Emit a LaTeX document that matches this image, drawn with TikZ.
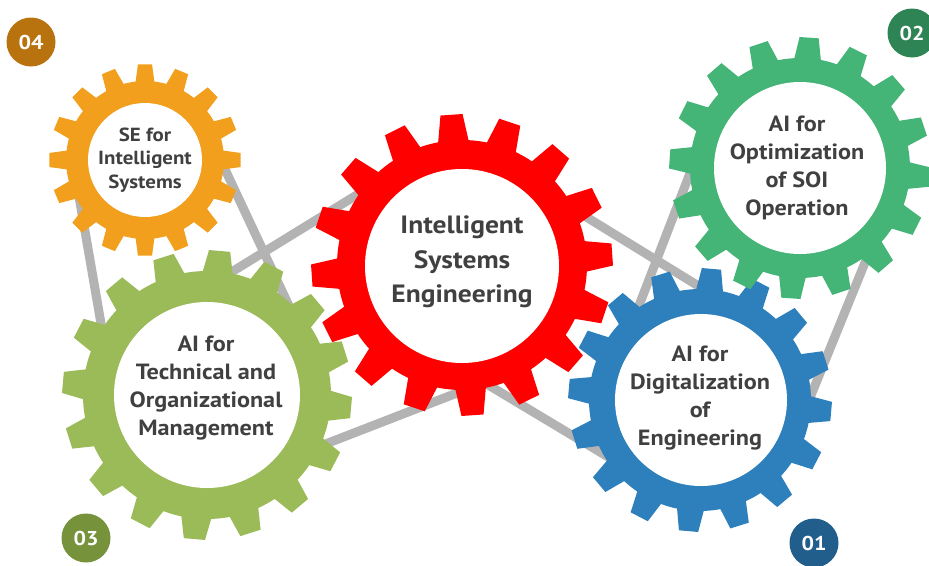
\documentclass[tikz,border=0pt]{standalone}
\usepackage{fontspec}
\setmainfont{PT Sans}[FakeStretch=1.1]
\definecolor{gOrange}{HTML}{F29F1D}
\definecolor{gRed}{HTML}{FF0000}
\definecolor{gGreen}{HTML}{44B477}
\definecolor{gBlue}{HTML}{2E80BC}
\definecolor{gOlive}{HTML}{9BBB59}
\definecolor{linkGray}{HTML}{B3B3B3}
\definecolor{txtGray}{HTML}{404040}
\definecolor{nOrange}{HTML}{B8730F}
\definecolor{nGreen}{HTML}{2F8455}
\definecolor{nOlive}{HTML}{76933C}
\definecolor{nBlue}{HTML}{215E8C}
% #1 cx, #2 cy, #3 root radius, #4 tip radius, #5 colour, #6 angle offset
\newcommand{\gearbody}[6]{%
  \begin{scope}[shift={(#1,#2)}]
    \fill[#5] (0,0) circle[radius=#3];
    \foreach \k in {0,...,15}{
      \pgfmathsetmacro{\ga}{#6+22.5*\k}
      \fill[#5] (\ga-7.4:#3-3) -- (\ga-4.2:#4) -- (\ga+4.2:#4) -- (\ga+7.4:#3-3) -- cycle;
    }
  \end{scope}}
\tikzset{
  link/.style={draw=linkGray, line width=9pt},
  hub/.style={circle, fill=white, inner sep=0pt},
  gtext/.style={align=center, text=txtGray, inner sep=0pt},
  badge/.style={circle, minimum size=49pt, inner sep=0pt, text=white,
     font=\fontsize{20}{22}\selectfont\bfseries},
}
\begin{document}
\begin{tikzpicture}[x=1pt,y=-1pt]
\useasboundingbox (0,0) rectangle (929,565);
% link end points
\coordinate (l1a) at (77,185);  \coordinate (l1b) at (103,335);
\coordinate (l2a) at (215,148); \coordinate (l2b) at (290,308);
\coordinate (l3a) at (160,316); \coordinate (l3b) at (360,193);
\coordinate (l4a) at (310,450); \coordinate (l4b) at (470,388);
\coordinate (l6a) at (570,207); \coordinate (l6b) at (705,290);
\coordinate (l7a) at (485,383); \coordinate (l7b) at (615,461);
\coordinate (l8a) at (697,155); \coordinate (l8b) at (635,316);
\coordinate (l9a) at (875,238); \coordinate (l9b) at (805,410);
\draw[link] (l1a) -- (l1b);
\draw[link] (l2a) -- (l2b);
\draw[link] (l3a) -- (l3b);
\draw[link] (l4a) -- (l4b);
\draw[link] (l6a) -- (l6b);
\draw[link] (l7a) -- (l7b);
\draw[link] (l8a) -- (l8b);
\draw[link] (l9a) -- (l9b);
% gears
\gearbody{207}{395}{124}{145}{gOlive}{-85}
\node[hub, minimum size=186pt] (olive) at (207,395) {};
\gearbody{145}{160}{79}{96}{gOrange}{-90}
\node[hub, minimum size=114pt] (orange) at (145,160) {};
\gearbody{462}{265}{125}{151}{gRed}{-94}
\node[hub, minimum size=194pt] (red) at (462,266) {};
\gearbody{700}{400}{111}{132}{gBlue}{-85}
\node[hub, minimum size=172pt] (blue) at (701,400) {};
\gearbody{800}{168}{110}{131}{gGreen}{-86}
\node[hub, minimum size=172pt] (green) at (800,168) {};
% texts
\node[gtext, font=\fontsize{19}{23.5}\selectfont\bfseries] (torange) at (145,160) {SE for\\Intelligent\\Systems};
\node[gtext, font=\fontsize{25}{34.5}\selectfont\bfseries] (tred) at (462,262) {Intelligent\\Systems\\Engineering};
\node[gtext, font=\fontsize{22}{28}\selectfont\bfseries] (tolive) at (206,388) {AI for\\Technical and\\Organizational\\Management};
\node[gtext, font=\fontsize{22}{28}\selectfont\bfseries] (tgreen) at (797,168) {AI for\\Optimization\\of SOI\\Operation};
\node[gtext, font=\fontsize{22}{28}\selectfont\bfseries] (tblue) at (700,398) {AI for\\Digitalization\\of\\Engineering};
% badges
\node[badge, fill=nOrange] (b04) at (31,42) {04};
\node[badge, fill=nGreen] (b02) at (912,33) {02};
\node[badge, fill=nOlive] (b03) at (86,538) {03};
\node[badge, fill=nBlue] (b01) at (814,543) {01};
\end{tikzpicture}
\end{document}
